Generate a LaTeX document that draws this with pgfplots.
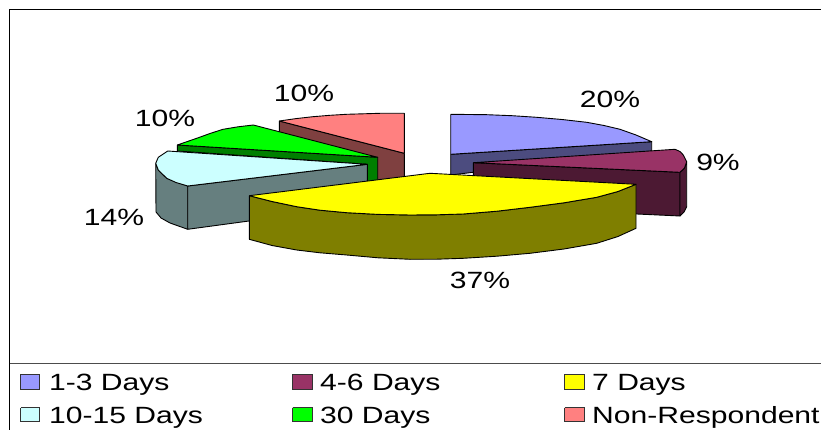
\documentclass[border=0pt]{standalone}
\usepackage{graphicx}
\usepackage{fontspec}
\setmainfont{Liberation Sans}
\usepackage{pgfplots}
\pgfplotsset{compat=1.18}

\definecolor{sliceA}{HTML}{9999FF}
\definecolor{sliceB}{HTML}{993366}
\definecolor{sliceC}{HTML}{FFFF00}
\definecolor{sliceD}{HTML}{CCFFFF}
\definecolor{sliceE}{HTML}{00FF00}
\definecolor{sliceF}{HTML}{FF8080}
\definecolor{wallA}{HTML}{4C4C7F}
\definecolor{wallB}{HTML}{4C1933}
\definecolor{wallC}{HTML}{7F7F00}
\definecolor{wallD}{HTML}{667F7F}
\definecolor{wallE}{HTML}{007F00}
\definecolor{wallF}{HTML}{7F4040}

% the reference is stretched sideways, so the text is too
\newcommand{\lab}[1]{\fontsize{23.5}{28}\selectfont\scalebox{1.28}[1]{#1}}

\pgfplotsset{
    part/.style={fill=#1, draw=black, line width=0.9pt, line join=round, no markers},
    swatch/.style={fill=#1, draw=black!80, line width=1pt, no markers},
}

\begin{document}
\begin{tikzpicture}
\begin{axis}[
    width=821pt, height=430pt, scale only axis,
    xmin=0, xmax=821, ymin=0, ymax=430, y dir=reverse,
    hide axis, clip=true,
]
    % keeps the page as large as the axis
    \addplot[draw=none, no markers] coordinates {(0,0) (821,430)};

    % frame
    \addplot[black, line width=1pt, no markers] coordinates {(9.5,430) (9.5,9.5) (821,9.5)};
    \addplot[black!70, line width=1pt, no markers] coordinates {(9.5,363) (821,363)};

    % Non-Respondent
    \addplot[part=wallF] coordinates {(279.3,121) (404.3,153.3) (404.3,182) (377,182) (279.3,140) (279.3,121)};
    \addplot[part=sliceF] coordinates {(279.3,121) (296,118.6) (313,116.7) (330,115.3) (346.7,114.3) (380,113.3) (404.3,113.3) (404.3,153.3) (279.3,121)};

    % 1-3 Days
    \addplot[part=wallA] coordinates {(450.7,154.3) (651.7,141.7) (651.7,151) (450.7,175) (450.7,154.3)};
    \addplot[part=sliceA] coordinates {(450.7,114.3) (486.7,114.7) (512,115.7) (536.7,117.3) (562,119.5) (586.7,122.3) (604,125.5) (620,129.3) (636,135) (651.7,141.7) (450.7,154.3) (450.7,114.3)};

    % 4-6 Days
    \addplot[part=wallB] coordinates {(473.3,162.7) (680,172.3) (680,216) (636.7,214) (473.3,180) (473.3,162.7)};
    \addplot[part=wallB] coordinates {(680,172.3) (684.5,168) (686.7,161.7) (686.7,206.7) (684,212) (680,216) (680,172.3)};
    \addplot[part=sliceB] coordinates {(473.3,162.7) (675,149.3) (680,151.5) (683.3,155) (686.7,161.7) (684.5,168) (680,172.3) (473.3,162.7)};

    % 30 Days
    \addplot[part=wallE] coordinates {(177.3,145) (377.7,157.3) (377.7,182) (367.3,182) (367.3,164.3) (177.3,151) (177.3,145)};
    \addplot[part=sliceE] coordinates {(177.3,145) (196.7,138.3) (210,133.5) (223,129.3) (238,126.8) (253.3,125) (377.7,157.3) (177.3,145)};

    % 10-15 Days
    \addplot[part=wallD] coordinates {(155.7,163.3) (158.3,170) (166.7,178.3) (187.7,186) (187.7,229.3) (170,223) (161,218) (156,212) (155.7,163.3)};
    \addplot[part=wallD] coordinates {(187.7,186) (367.3,164.3) (367.3,205) (187.7,229.3) (187.7,186)};
    \addplot[part=sliceD] coordinates {(167.7,151) (367.3,164.3) (187.7,186) (176,182.5) (166.7,178.3) (158.3,170) (155.7,163.3) (158.3,157.3) (167.7,151)};

    % 7 Days
    \addplot[part=wallC] coordinates {(249.3,195.7) (272,201.5) (296.7,206.7) (320,210.2) (346.7,212.7) (378,214.4) (410,215) (437,214.8) (463.3,214) (497,211.2) (530,207.3) (564,202.8) (596.7,197.3) (618,191.5) (636,184.3) (636,228.3) (618,236.5) (596.7,243.3) (564,249) (530,253.3) (497,256.2) (463.3,258.3) (437,259.2) (410,259.3) (378,257.8) (346.7,255) (320,252.8) (296.7,250) (272,245.5) (249.3,239.3) (249.3,195.7)};
    \addplot[part=sliceC] coordinates {(249.3,195.7) (430,173.3) (636,184.3) (618,191.5) (596.7,197.3) (564,202.8) (530,207.3) (497,211.2) (463.3,214) (437,214.8) (410,215) (378,214.4) (346.7,212.7) (320,210.2) (296.7,206.7) (272,201.5) (249.3,195.7)};

    % percentages
    \node at (axis cs:610,99) {\lab{20\%}};
    \node at (axis cs:718,162) {\lab{9\%}};
    \node at (axis cs:480,280) {\lab{37\%}};
    \node at (axis cs:114,217) {\lab{14\%}};
    \node at (axis cs:165,118) {\lab{10\%}};
    \node at (axis cs:304,93) {\lab{10\%}};

    % legend
    \addplot[swatch=sliceA] coordinates {(20.7,374.3) (39.7,374.3) (39.7,389) (20.7,389) (20.7,374.3)};
    \addplot[swatch=sliceB] coordinates {(292.7,374.3) (312,374.3) (312,389) (292.7,389) (292.7,374.3)};
    \addplot[swatch=sliceC] coordinates {(564.7,374.3) (584,374.3) (584,389) (564.7,389) (564.7,374.3)};
    \addplot[swatch=sliceD] coordinates {(20.7,407.7) (39.7,407.7) (39.7,421.7) (20.7,421.7) (20.7,407.7)};
    \addplot[swatch=sliceE] coordinates {(292.7,407.7) (312,407.7) (312,421.7) (292.7,421.7) (292.7,407.7)};
    \addplot[swatch=sliceF] coordinates {(564.7,407.7) (584,407.7) (584,421.7) (564.7,421.7) (564.7,407.7)};
    \node[anchor=base west, inner sep=0pt] at (axis cs:49,390) {\lab{1-3 Days}};
    \node[anchor=base west, inner sep=0pt] at (axis cs:320,390) {\lab{4-6 Days}};
    \node[anchor=base west, inner sep=0pt] at (axis cs:592,390) {\lab{7 Days}};
    \node[anchor=base west, inner sep=0pt] at (axis cs:49,423) {\lab{10-15 Days}};
    \node[anchor=base west, inner sep=0pt] at (axis cs:320,423) {\lab{30 Days}};
    \node[anchor=base west, inner sep=0pt] at (axis cs:592,423) {\lab{Non-Respondent}};
\end{axis}
\end{tikzpicture}
\end{document}
